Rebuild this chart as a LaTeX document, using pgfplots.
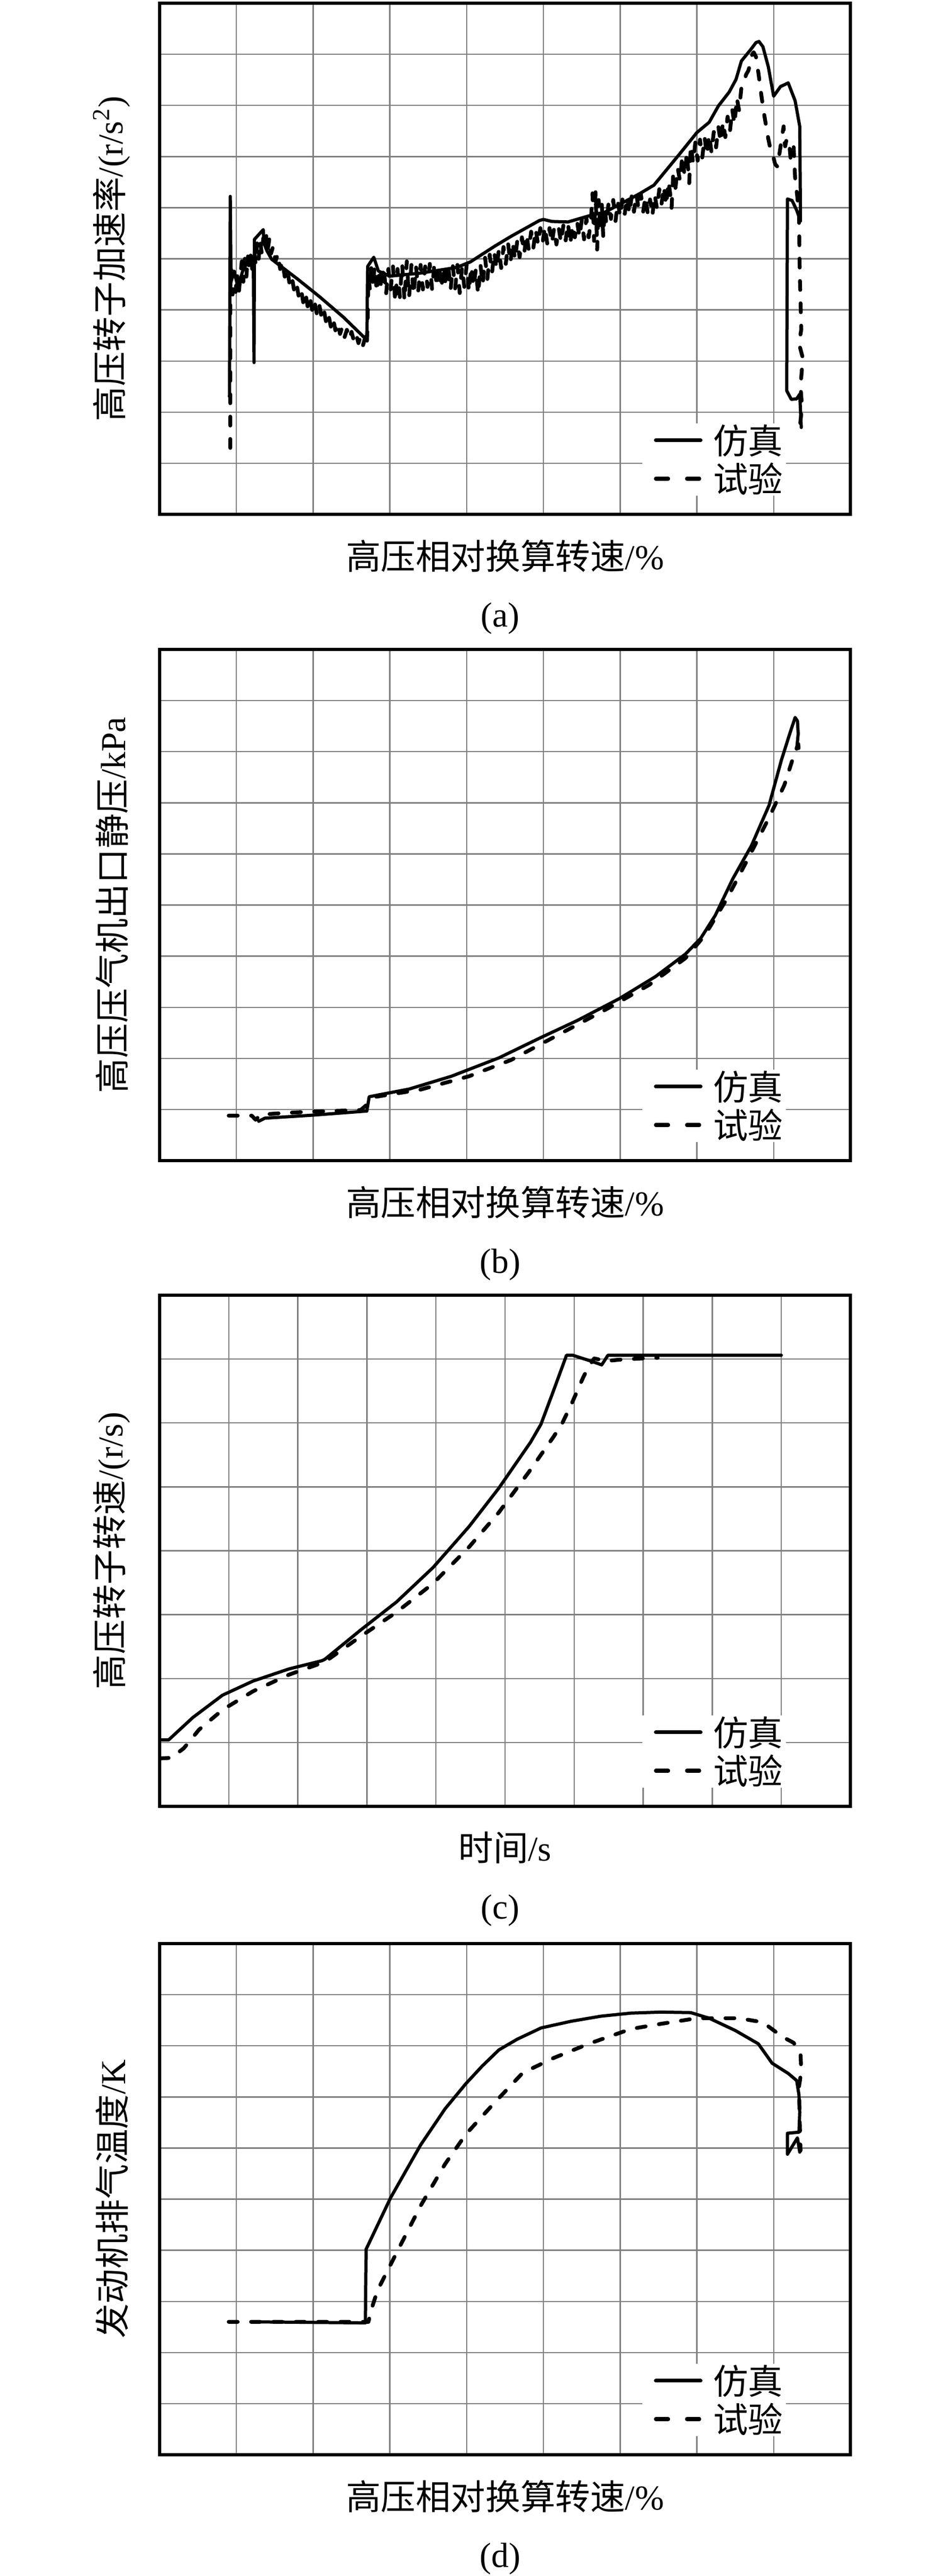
\documentclass[border=0pt]{standalone}
\usepackage{fontspec}
\setmainfont{Liberation Serif}
\newfontfamily\cjk{Noto Sans CJK SC}
\usepackage{pgfplots}
\pgfplotsset{compat=1.18}
\newcommand{\fs}{\fontsize{16.4pt}{19pt}\selectfont}
\pgfplotsset{
 panel/.style={
  scale only axis, width=324.5pt, height=240.25pt,
  xmin=0, xmax=9, ymin=0, ymax=10,
  xtick={0,...,9}, ytick={0,...,10},
  xticklabels={}, yticklabels={},
  grid=major,
  major grid style={line width=0.6pt, draw=gray},
  axis line style={line width=1.3pt},
  major tick length=0pt,
  tick style={draw=none},
  label style={font=\fs},
  xlabel style={at={(axis description cs:0.5,-0.0812)}, anchor=center},
  ylabel style={at={(axis description cs:-0.0693,0.5)}, anchor=center},
  title style={at={(axis description cs:0.493,-0.229)}, anchor=center, font=\fs},
  legend style={draw=none, fill=white, font=\fs, at={(axis description cs:0.9076,0.0354)}, anchor=south east, inner xsep=1pt, inner ysep=0pt, row sep=2pt, cells={anchor=west}, nodes={inner sep=0.5pt, text depth=0.12em}},
  legend image code/.code={\path (0pt,0pt) (30pt,0pt); \draw[##1] (4.5pt,0pt) -- (25.5pt,0pt);},
 },
 sim/.style={black, line width=1.5pt, line join=round, line cap=round, no marks,
   legend image post style={line width=1.8pt}},
 exp/.style={black, line width=1.8pt, dash pattern=on 4.2pt off 6.3pt, line join=round, line cap=round, no marks,
   legend image post style={line width=1.8pt, dash pattern=on 5.8pt off 8.8pt}},
}
\begin{document}
\begin{tikzpicture}
\path[use as bounding box] (0,0) rectangle (443pt,-1210.75pt);
% ---------------- (a)
\begin{axis}[panel, at={(75pt,-1.5pt)}, anchor=north west,
  xlabel={{\cjk 高压相对换算转速}/\%},
  ylabel={{\cjk 高压转子加速率}/(r/s\textsuperscript{2})},
  title={(a)}]
\addplot[sim] table {
0.91 2.30
0.92 6.22
0.93 4.55
0.97 4.75
1.02 4.45
1.08 4.75
1.15 4.95
1.22 5.05
1.23 2.97
1.235 5.38
1.35 5.57
1.36 5.30
1.40 5.15
1.46 4.99
1.80 4.60
2.09 4.25
2.40 3.85
2.70 3.41
2.71 4.85
2.79 5.03
2.85 4.76
3.00 4.66
3.40 4.72
3.87 4.83
4.05 4.94
4.37 5.25
4.58 5.44
4.95 5.75
5.00 5.77
5.11 5.73
5.32 5.72
5.64 5.86
5.80 5.91
6.25 6.27
6.44 6.44
6.78 7.06
7.00 7.47
7.16 7.67
7.28 7.99
7.42 8.26
7.51 8.51
7.58 8.87
7.70 9.09
7.77 9.23
7.81 9.25
7.86 9.15
7.93 8.76
8.00 8.18
8.09 8.37
8.19 8.44
8.28 8.09
8.34 7.59
8.35 5.74
8.30 5.95
8.24 6.14
8.18 6.17
8.17 2.42
8.23 2.25
8.30 2.26
8.34 2.35
8.36 1.70
};
\addplot[exp] table {
0.92 1.30
0.92 4.40
0.93 4.80
0.95 4.30
0.97 4.75
0.99 4.35
1.01 4.70
1.03 4.30
1.05 4.65
1.07 4.95
1.09 4.55
1.11 5.00
1.13 4.65
1.15 5.05
1.17 4.75
1.19 5.15
1.21 4.70
1.23 5.20
1.25 4.90
1.27 5.30
1.29 5.00
1.31 5.35
1.33 5.10
1.35 5.40
1.37 5.15
1.39 5.45
1.41 5.20
1.43 5.40
1.45 5.10
1.48 5.25
1.51 4.95
1.54 5.10
1.57 4.80
1.60 4.95
1.63 4.65
1.66 4.83
1.69 4.53
1.72 4.67
1.75 4.40
1.78 4.55
1.81 4.28
1.84 4.43
1.87 4.15
1.90 4.33
1.93 4.05
1.96 4.23
1.99 3.97
2.02 4.15
2.05 3.90
2.08 4.10
2.11 3.85
2.14 4.00
2.17 3.75
2.20 3.91
2.23 3.67
2.26 3.83
2.29 3.60
2.32 3.75
2.35 3.53
2.38 3.67
2.41 3.47
2.44 3.61
2.47 3.43
2.50 3.57
2.53 3.40
2.56 3.53
2.59 3.35
2.62 3.49
2.65 3.31
2.68 3.47
2.70 3.30
2.71 3.80
2.72 4.65
2.74 4.40
2.76 4.90
2.78 4.45
2.80 4.85
2.83 4.35
2.86 4.80
2.89 4.40
2.92 4.85
2.95 4.30
2.98 4.80
3.01 4.40
3.04 4.85
3.07 4.15
3.10 4.80
3.13 4.25
3.16 4.90
3.19 4.18
3.22 4.95
3.25 4.25
3.28 4.88
3.31 4.30
3.34 4.85
3.37 4.38
3.40 4.88
3.43 4.40
3.46 4.85
3.49 4.45
3.52 4.90
3.55 4.40
3.58 4.92
3.61 4.45
3.64 4.88
3.67 4.42
3.70 4.85
3.73 4.45
3.76 4.90
3.79 4.38
3.82 4.86
3.85 4.42
3.88 4.88
3.91 4.33
3.94 4.84
3.97 4.45
4.00 4.88
4.03 4.35
4.06 4.85
4.09 4.45
4.12 4.80
4.15 4.30
4.18 4.88
4.21 4.50
4.24 5.02
4.27 4.60
4.30 5.08
4.33 4.72
4.36 5.13
4.39 4.80
4.42 5.18
4.45 4.82
4.48 5.23
4.51 4.90
4.54 5.30
4.57 4.92
4.60 5.33
4.63 4.98
4.66 5.36
4.69 5.03
4.72 5.42
4.75 5.10
4.78 5.48
4.81 5.17
4.84 5.53
4.87 5.22
4.90 5.58
4.93 5.28
4.96 5.60
4.99 5.32
5.02 5.63
5.05 5.30
5.08 5.60
5.11 5.30
5.14 5.60
5.17 5.28
5.20 5.60
5.23 5.32
5.26 5.65
5.29 5.36
5.32 5.70
5.35 5.28
5.38 5.66
5.41 5.42
5.44 5.72
5.47 5.42
5.50 5.76
5.53 5.38
5.56 5.80
5.59 5.42
5.62 5.76
5.64 6.28
5.66 5.35
5.68 6.32
5.70 5.18
5.72 6.15
5.74 5.55
5.76 6.10
5.78 5.42
5.80 6.00
5.82 5.68
5.85 6.10
5.88 5.78
5.91 6.15
5.94 5.74
5.97 6.12
6.00 5.82
6.03 6.16
6.06 5.88
6.09 6.22
6.12 5.88
6.15 6.22
6.18 5.92
6.21 6.27
6.24 5.98
6.27 6.26
6.30 5.92
6.33 6.22
6.36 5.88
6.39 6.16
6.42 5.84
6.45 6.26
6.48 5.98
6.51 6.36
6.54 6.08
6.57 6.42
6.60 6.04
6.63 6.52
6.66 6.18
6.67 5.99
6.69 6.62
6.72 6.38
6.75 6.78
6.78 6.52
6.81 7.02
6.84 6.62
6.87 7.08
6.90 6.48
6.92 7.22
6.95 6.88
6.98 7.28
7.01 6.92
7.04 7.33
7.07 6.98
7.10 7.38
7.13 7.03
7.16 7.43
7.19 7.08
7.22 7.48
7.25 7.18
7.28 7.58
7.31 7.28
7.34 7.68
7.37 7.38
7.40 7.78
7.43 7.48
7.46 7.93
7.49 7.63
7.52 8.15
7.55 7.90
7.58 8.35
7.61 8.42
7.64 8.60
7.67 8.68
7.70 8.84
7.72 9.00
7.74 9.04
7.77 8.95
7.80 8.65
7.83 8.31
7.86 7.98
7.89 7.70
7.91 7.53
7.93 7.35
7.95 7.20
7.97 7.05
8.00 6.97
8.02 6.85
8.05 6.80
8.07 7.00
8.09 7.20
8.11 7.40
8.13 7.59
8.14 7.30
8.15 7.20
8.17 7.35
8.20 7.31
8.22 6.97
8.24 7.10
8.26 7.20
8.28 6.58
8.31 6.19
8.33 5.85
8.34 4.74
8.36 3.62
8.33 3.34
8.38 3.06
8.35 2.50
8.37 2.11
8.34 1.69
};
\legend{{\cjk 仿真},{\cjk 试验}}
\end{axis}
% ---------------- (b)
\begin{axis}[panel, at={(75pt,-305.25pt)}, anchor=north west,
  xlabel={{\cjk 高压相对换算转速}/\%},
  ylabel={{\cjk 高压压气机出口静压}/kPa},
  title={(b)}]
\addplot[sim] table {
1.29 0.77
1.37 0.83
2.00 0.89
2.70 0.97
2.73 1.25
3.25 1.40
3.80 1.65
4.42 2.01
4.97 2.41
5.44 2.74
5.99 3.17
6.46 3.60
6.85 4.04
7.05 4.35
7.24 4.80
7.47 5.52
7.71 6.16
7.94 6.95
8.10 7.83
8.22 8.40
8.28 8.67
8.31 8.60
8.32 8.35
8.30 8.05
};
\addplot[exp] table {
0.90 0.88
1.20 0.88
1.25 0.80
1.32 0.90
1.60 0.93
2.00 0.96
2.62 0.99
2.82 1.25
3.40 1.39
4.03 1.65
4.58 1.97
5.13 2.41
5.83 2.97
6.38 3.44
6.85 3.96
7.10 4.40
7.39 5.12
7.67 5.92
7.94 6.71
8.14 7.35
8.26 7.91
8.32 8.15
8.33 8.00
};
\legend{{\cjk 仿真},{\cjk 试验}}
\end{axis}
% ---------------- (c)
\begin{axis}[panel, at={(75pt,-608.75pt)}, anchor=north west,
  xmax=10, ymax=8, xtick={0,...,10}, ytick={0,...,8},
  xlabel={{\cjk 时间}/s},
  ylabel={{\cjk 高压转子转速}/(r/s)},
  title={(c)}]
\addplot[sim] table {
0 1.04
0.13 1.04
0.48 1.39
0.91 1.74
1.35 1.96
1.87 2.15
2.35 2.28
2.39 2.30
2.91 2.76
3.43 3.20
3.96 3.74
4.48 4.38
4.91 4.98
5.37 5.70
5.52 5.98
5.70 6.50
5.89 7.06
5.98 7.06
6.24 6.97
6.40 6.91
6.49 7.06
9.00 7.06
};
\addplot[exp] table {
0 0.75
0.17 0.76
0.35 0.91
0.57 1.20
0.91 1.51
1.35 1.80
1.87 2.06
2.39 2.26
2.91 2.66
3.43 3.04
3.96 3.49
4.48 4.06
4.91 4.60
5.35 5.24
5.70 5.78
5.83 6.00
5.98 6.34
6.13 6.71
6.21 6.88
6.29 7.01
6.47 6.97
6.65 6.99
6.98 7.01
7.21 7.02
};
\legend{{\cjk 仿真},{\cjk 试验}}
\end{axis}
% ---------------- (d)
\begin{axis}[panel, at={(75pt,-913.5pt)}, anchor=north west,
  xlabel={{\cjk 高压相对换算转速}/\%},
  ylabel={{\cjk 发动机排气温度}/K},
  title={(d)}]
\addplot[sim] table {
1.21 2.60
2.68 2.58
2.69 4.02
3.01 5.03
3.40 6.06
3.72 6.77
3.99 7.26
4.20 7.60
4.42 7.92
4.66 8.13
4.97 8.35
5.36 8.48
5.75 8.58
6.14 8.64
6.53 8.66
6.92 8.65
7.16 8.54
7.50 8.30
7.80 8.04
7.98 7.66
8.19 7.46
8.30 7.32
8.33 7.04
8.34 6.70
8.33 6.31
8.18 6.29
8.18 5.88
8.31 6.20
8.34 5.92
};
\addplot[exp] table {
0.90 2.60
2.72 2.60
2.76 2.85
2.84 3.22
3.09 3.96
3.40 4.87
3.72 5.69
3.99 6.27
4.34 6.85
4.73 7.47
5.13 7.76
5.59 8.04
6.14 8.33
6.53 8.43
7.00 8.54
7.55 8.54
7.86 8.46
8.11 8.18
8.26 8.06
8.35 7.85
8.36 7.50
8.33 7.20
8.34 6.50
8.35 5.95
};
\legend{{\cjk 仿真},{\cjk 试验}}
\end{axis}
\end{tikzpicture}
\end{document}
